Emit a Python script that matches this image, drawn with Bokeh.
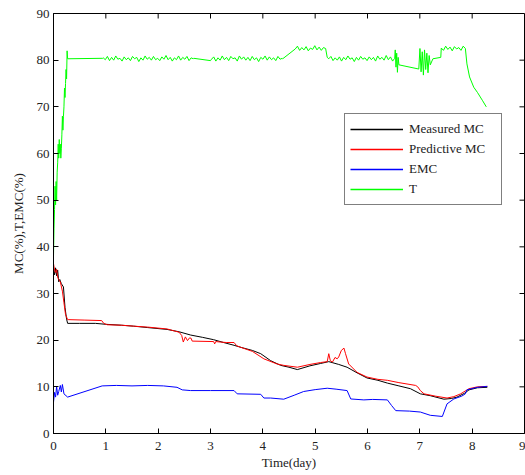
import numpy as np
from bokeh.plotting import figure
from bokeh.models import Legend, LegendItem, FixedTicker, Range1d
from bokeh.embed import file_html
from bokeh.resources import INLINE

# ---------------- data ----------------
x_ticks = [0, 1, 2, 3, 4, 5, 6, 7, 8, 9]
y_ticks = [0, 10, 20, 30, 40, 50, 60, 70, 80, 90]

measured_x = [0, 0.02, 0.04, 0.06, 0.08, 0.1, 0.12, 0.15, 0.19, 0.22, 0.25, 0.27, 0.5, 0.8, 1.0,
              1.3, 1.53, 1.8, 2.17, 2.4, 2.62, 2.85, 3.06, 3.25, 3.45, 3.6, 3.8, 3.96, 4.15, 4.34,
              4.5, 4.66, 4.9, 5.1, 5.26, 5.45, 5.61, 5.8, 5.99, 6.2, 6.38, 6.6, 6.82, 7.01, 7.2,
              7.46, 7.6, 7.71, 7.85, 7.94, 8.1, 8.29]
measured_y = [35.3, 34.0, 35.5, 33.8, 35.0, 32.5, 33.0, 32.1, 31.4, 27.0, 24.5, 23.6, 23.6, 23.6, 23.4,
              23.2, 23.0, 22.7, 22.3, 21.8, 21.1, 20.6, 20.1, 19.5, 18.9, 18.4, 17.8, 17.1, 15.6, 14.6,
              14.2, 13.7, 14.5, 15.0, 15.4, 14.8, 14.2, 13.0, 11.9, 11.4, 10.8, 10.2, 9.6, 8.5, 8.1,
              7.35, 7.5, 7.8, 8.6, 9.35, 9.8, 9.9]

predict_x = [0, 0.02, 0.04, 0.06, 0.08, 0.1, 0.13, 0.17, 0.2, 0.23, 0.27, 0.28, 0.6, 0.92, 0.96,
             1.03, 1.3, 1.53, 1.8, 2.17, 2.4, 2.45, 2.48, 2.52, 2.56, 2.6, 2.63, 2.65, 3.06, 3.08,
             3.1, 3.19, 3.3, 3.45, 3.5, 3.57, 3.8, 4.02, 4.27, 4.4, 4.66, 4.9, 5.1, 5.23, 5.26,
             5.29, 5.33, 5.38, 5.42, 5.45, 5.5, 5.55, 5.58, 5.64, 5.8, 5.99, 6.2, 6.38, 6.6, 6.92,
             6.96, 7.01, 7.08, 7.3, 7.52, 7.65, 7.78, 7.94, 8.1, 8.29]
predict_y = [36.4, 35.0, 34.5, 35.2, 33.5, 33.0, 32.5, 30.5, 28.0, 25.5, 24.4, 24.4, 24.3, 24.2, 23.6,
             23.3, 23.2, 23.0, 22.8, 22.4, 21.7, 21.0, 19.6, 20.7, 19.9, 20.5, 20.4, 19.8, 19.7, 19.2,
             19.7, 19.6, 19.5, 19.5, 18.8, 18.5, 17.6, 16.0, 14.9, 14.6, 14.2, 14.8, 15.2, 15.4, 17.1,
             15.6, 15.3, 16.3, 16.0, 16.4, 17.8, 18.3, 17.1, 14.9, 13.1, 12.1, 11.6, 11.4, 10.9, 10.3,
             10.0, 9.2, 8.5, 8.0, 7.6, 7.9, 8.5, 9.6, 10.0, 10.1]

emc_x = [0, 0.02, 0.04, 0.06, 0.08, 0.1, 0.13, 0.15, 0.17, 0.2, 0.22, 0.27, 0.93, 1.2, 1.5,
         1.8, 2.1, 2.36, 2.46, 2.62, 3.0, 3.45, 3.51, 3.96, 4.02, 4.15, 4.4, 4.6, 4.78, 5.0,
         5.23, 5.4, 5.61, 5.68, 5.93, 6.1, 6.38, 6.46, 6.54, 6.8, 7.01, 7.2, 7.43, 7.52, 7.65,
         7.8, 7.87, 7.9, 8.1, 8.29]
emc_y = [6.7, 8.8, 7.8, 10.1, 8.2, 9.0, 10.3, 8.9, 10.5, 8.5, 8.3, 7.8, 10.2, 10.3, 10.2,
         10.3, 10.2, 9.9, 9.35, 9.2, 9.2, 9.2, 8.5, 8.4, 7.6, 7.6, 7.35, 8.2, 9.0, 9.4,
         9.7, 9.5, 9.2, 7.4, 7.2, 7.3, 7.2, 6.0, 4.9, 4.8, 4.6, 3.9, 3.65, 6.35, 7.4,
         8.0, 8.5, 9.35, 9.9, 10.1]

# T: rise, then noisy plateaus (segments: start, end, values)
t_rise_x = [0, 0.01, 0.02, 0.03, 0.04, 0.05, 0.06, 0.07, 0.08, 0.09, 0.1, 0.11, 0.12, 0.13,
            0.14, 0.15, 0.16, 0.17, 0.18, 0.19, 0.2, 0.21, 0.22, 0.23, 0.24, 0.25, 0.26, 0.27, 0.94]
t_rise_y = [38, 44, 48, 53, 49, 54, 50, 56, 58, 62, 59, 63, 60, 62,
            59, 61, 64, 68, 65, 68, 70, 74, 72, 75, 78, 76, 82, 80.3, 80.4]
t_seg_b = (0.95, 2.67, [80.5, 80.1, 80.8, 79.9, 80.6, 80.0, 80.9, 80.2, 80.4, 79.8, 80.7, 80.1, 80.5,
                        79.9, 80.8, 80.3, 80.6, 79.7, 80.5, 80.0, 80.9, 80.2, 80.6, 80.0, 80.8, 80.1,
                        80.4, 79.9, 80.7, 80.2, 81.0, 80.1, 80.6, 79.8, 80.5, 80.1, 80.9, 80.0, 80.6,
                        80.2, 80.8, 79.9, 80.5, 80.3])
t_link_bc = ([2.68, 3.0], [80.4, 79.9])
t_seg_c = (3.02, 4.37, [80.2, 80.7, 79.8, 80.5, 80.0, 80.9, 80.1, 80.6, 79.9, 80.8, 80.3, 80.5, 79.8,
                        80.9, 80.2, 80.7, 80.0, 80.6, 79.9, 80.8, 80.1, 80.5, 79.7, 80.6, 80.2, 80.9,
                        80.0, 80.7, 80.1, 80.5, 79.9, 80.8, 80.2, 80.4])
t_link_cd = ([4.38], [80.3])
t_seg_d = (4.62, 5.2, [82.4, 83.0, 82.1, 82.7, 82.2, 82.9, 82.0, 82.6, 82.3, 83.1, 82.2, 82.8, 82.1,
                       82.7, 82.5])
t_link_de = ([5.23], [80.6])
t_seg_e = (5.26, 6.52, [80.3, 80.8, 79.9, 80.5, 80.0, 80.7, 79.8, 80.6, 80.1, 80.9, 80.2, 80.5, 79.7,
                        80.6, 80.0, 80.8, 80.2, 80.5, 79.9, 80.7, 80.1, 80.6, 79.8, 80.9, 80.2, 80.6,
                        80.0, 81.0, 80.1, 80.7, 79.8, 80.4])
t_seg_spk1 = (6.53, 6.6, [82.2, 78.5, 81.5, 77.4, 80.6, 79.0])
t_seg_spk2 = (6.98, 7.2, [78.1, 82.5, 77.5, 81.8, 76.8, 82.2, 78.0, 81.5, 77.3, 81.0, 79.0])
t_link_fg = ([7.25, 7.4], [80.3, 80.6])
t_seg_g = (7.41, 7.87, [82.6, 82.1, 83.0, 82.3, 82.8, 82.0, 82.9, 82.4, 82.7, 82.1, 83.0, 82.5])
t_tail = ([7.9, 7.95, 8.03, 8.1, 8.2, 8.27], [79.2, 76.4, 74.2, 73.1, 71.3, 70.0])

labels = ["Measured MC", "Predictive MC", "EMC", "T"]
colors = ["#000000", "#ff0000", "#0000ff", "#00ff00"]


def seg(s):
    a, b, vals = s
    return list(np.linspace(a, b, len(vals))), list(vals)


t_x, t_y = list(t_rise_x), list(t_rise_y)
for part in [seg(t_seg_b), t_link_bc, seg(t_seg_c), t_link_cd, seg(t_seg_d), t_link_de,
             seg(t_seg_e), seg(t_seg_spk1), seg(t_seg_spk2), t_link_fg, seg(t_seg_g), t_tail]:
    t_x += list(part[0])
    t_y += list(part[1])

# ---------------- figure ----------------
FONT = "Liberation Serif"
p = figure(width=525, height=475, output_backend="svg", toolbar_location=None,
           x_range=Range1d(0, 9), y_range=Range1d(0, 90),
           min_border_left=53, min_border_right=1, min_border_top=13, min_border_bottom=42)
p.background_fill_color = "white"
p.border_fill_color = "white"
p.outline_line_color = "black"
p.outline_line_width = 1
p.grid.visible = False

r_meas = p.line(measured_x, measured_y, color=colors[0], line_width=1)
r_pred = p.line(predict_x, predict_y, color=colors[1], line_width=1)
r_emc = p.line(emc_x, emc_y, color=colors[2], line_width=1)
r_t = p.line(t_x, t_y, color=colors[3], line_width=1)

# renderers used only for the legend swatches (hold a single NaN, draw nothing in the plot)
leg_r = [p.line([np.nan], [np.nan], color=c, line_width=1.3) for c in colors]

# inward tick marks on the right and top edges (MATLAB box style)
p.ray(x=[x_ticks[-1]] * len(y_ticks), y=y_ticks, length=5, length_units="screen",
      angle=np.pi, color="black", line_width=1)
p.ray(x=x_ticks, y=[y_ticks[-1]] * len(x_ticks), length=5, length_units="screen",
      angle=-np.pi / 2, color="black", line_width=1)


def style_axis(ax):
    ax.major_tick_in = 5
    ax.major_tick_out = 0
    ax.minor_tick_line_color = None
    ax.axis_line_color = "black"
    ax.major_tick_line_color = "black"
    ax.major_label_text_font = FONT
    ax.major_label_text_font_size = "13px"
    ax.major_label_text_color = "#222222"
    ax.axis_label_text_font = FONT
    ax.axis_label_text_font_size = "13px"
    ax.axis_label_text_font_style = "normal"
    ax.axis_label_text_color = "#222222"


xa = p.xaxis[0]
xa.ticker = FixedTicker(ticks=x_ticks)
xa.axis_label = "Time(day)"
style_axis(xa)
xa.major_label_standoff = 8
xa.axis_label_standoff = 2

ya = p.yaxis[0]
ya.ticker = FixedTicker(ticks=y_ticks)
ya.axis_label = "MC(%),T,EMC(%)"
style_axis(ya)
ya.major_label_standoff = 4
ya.axis_label_standoff = 8

legend = Legend(items=[LegendItem(label=lab, renderers=[r]) for lab, r in zip(labels, leg_r)],
                location=(291, 228))
legend.border_line_color = "black"
legend.border_line_width = 1
legend.background_fill_color = "white"
legend.background_fill_alpha = 1
legend.padding = 5
legend.margin = 0
legend.spacing = 0
legend.glyph_width = 53
legend.glyph_height = 20
legend.label_height = 20
legend.label_standoff = 6
legend.label_text_font = FONT
legend.label_text_font_size = "13px"
legend.label_text_color = "#222222"
legend.label_width = 87
p.add_layout(legend)

open("out.html", "w").write(file_html(p, INLINE))
